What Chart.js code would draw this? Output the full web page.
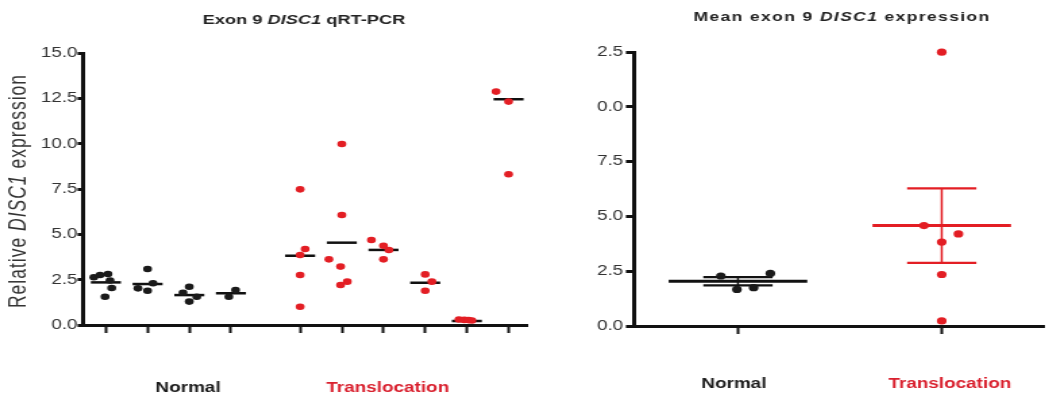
<!DOCTYPE html>
<html>
<head>
<meta charset="utf-8">
<script src="https://cdn.jsdelivr.net/npm/chart.js@4.4.1/dist/chart.umd.min.js"></script>
<style>
  body { margin: 0; background: #fff; width: 1049px; height: 404px; overflow: hidden; position: relative; }
  canvas { position: absolute; top: 0; }
  #left { left: 0; }
  #right { left: 535px; }
</style>
</head>
<body>
<!-- the reference is stretched sideways, so each canvas is drawn narrow and widened by css -->
<canvas id="left" width="396" height="404" style="width:535px;height:404px"></canvas>
<canvas id="right" width="381" height="404" style="width:514px;height:404px"></canvas>
<script>
// groups
const groupNames = ['Normal', 'Translocation'];
const dotColors = ['#1a1a1a', '#e31e24'];
const labelColors = ['#1a1a1a', '#d9202e'];

// left chart: one column per sample, 4 normal then 6 translocation
const sampleGroup = [0, 0, 0, 0, 1, 1, 1, 1, 1, 1];
const sampleValues = [
  [2.63, 2.76, 2.81, 2.45, 2.04, 1.56],
  [3.09, 2.02, 1.89, 2.30],
  [2.11, 1.78, 1.29, 1.56],
  [1.93, 1.56],
  [7.48, 4.19, 3.86, 2.76, 1.01],
  [9.98, 6.07, 3.62, 3.22, 2.21, 2.39],
  [4.69, 4.37, 4.14, 3.62],
  [2.79, 2.39, 1.89],
  [0.30, 0.28, 0.27, 0.25],
  [12.87, 12.32, 8.31],
];
const sampleMeans = [2.35, 2.26, 1.65, 1.75, 3.82, 4.54, 4.14, 2.33, 0.22, 12.45];

// right chart: mean of each sample, per group
const meanValues = [
  [2.28, 1.67, 1.75, 2.40],
  [12.49, 4.58, 4.20, 3.83, 2.35, 0.23],
];
const groupMean = [2.04, 4.58];
const groupSem = [0.19, 1.70];
const rightTickLabels = ['0.0', '2.5', '5.0', '7.5', '0.0', '2.5'];

// layout (x units)
const samplePos = [1, 2, 3, 4, 5.66, 6.66, 7.66, 8.66, 9.66, 10.66];
const sampleJitter = [
  [-0.29, -0.14, 0.05, 0.1, 0.14, -0.02],
  [0, -0.23, 0, 0.13],
  [0, -0.15, 0, 0.18],
  [0.11, -0.05],
  [0, 0.12, 0, 0, 0],
  [0, 0, -0.31, -0.03, -0.03, 0.13],
  [-0.29, 0, 0.13, 0],
  [0, 0.16, 0],
  [-0.19, -0.06, 0.04, 0.12],
  [-0.3, 0, 0],
];
const meanJitter = [
  [-0.084, -0.005, 0.077, 0.159],
  [0, -0.087, 0.082, 0, 0, 0],
];
const leftLabelPos = [2.97, 7.76];
const rightLabelPos = [0.98, 2.04];

Chart.defaults.font.family = '"Liberation Sans", Arial, sans-serif';
Chart.defaults.color = '#333';

function drawRich(ctx, parts, x, y, size, bold, spacing, color) {
  ctx.save();
  ctx.letterSpacing = spacing + 'px';
  ctx.fillStyle = color;
  ctx.textBaseline = 'middle';
  const fonts = parts.map(p => (p[1] ? 'italic ' : '') + (bold ? 'bold ' : '') + size + 'px "Liberation Sans", Arial, sans-serif');
  let w = 0;
  parts.forEach((p, i) => { ctx.font = fonts[i]; w += ctx.measureText(p[0]).width; });
  let cx = x - w / 2;
  parts.forEach((p, i) => {
    ctx.font = fonts[i];
    ctx.fillText(p[0], cx, y);
    cx += ctx.measureText(p[0]).width;
  });
  ctx.restore();
}

// labels may hang past the edges, don't let them shrink the plot
function noPad(s) {
  s.paddingLeft = 0;
  s.paddingRight = 0;
}

function yAxis(max, width, tickLen, pad, labelFn) {
  return {
    min: 0, max: max,
    ticks: { stepSize: 2.5, padding: pad, color: '#333', font: { size: 14 }, callback: labelFn },
    grid: { drawOnChartArea: false, tickLength: tickLen, tickWidth: 3, tickColor: '#111' },
    border: { color: '#111', width: 3 },
    afterFit: s => { s.width = width; }
  };
}

function xAxes(min, max, tickPos, labelPos, labelPad, labelHeight) {
  return {
    x: {
      type: 'linear', min: min, max: max,
      afterBuildTicks: s => { s.ticks = tickPos.map(v => ({ value: v })); },
      ticks: { display: false },
      grid: { drawOnChartArea: false, tickLength: 8, tickWidth: 2, tickColor: '#111' },
      border: { color: '#111', width: 3 },
      afterFit: s => { s.height = 12; noPad(s); }
    },
    x2: {
      type: 'linear', position: 'bottom', min: min, max: max,
      afterBuildTicks: s => { s.ticks = labelPos.map(v => ({ value: v })); },
      ticks: {
        autoSkip: false, maxRotation: 0, padding: labelPad,
        font: { size: 14, weight: 'bold' },
        color: c => labelColors[c.index],
        callback: (v, i) => groupNames[i]
      },
      grid: { display: false },
      border: { display: false },
      afterFit: s => { s.height = labelHeight; noPad(s); }
    }
  };
}

function seg(x1, x2, y1, y2, color, width) {
  return {
    data: [{ x: x1, y: y1 }, { x: x2, y: y2 }],
    showLine: true, pointRadius: 0, borderColor: color, borderWidth: width, clip: false
  };
}

// left chart datasets
const leftSets = [];
[0, 1].forEach(g => {
  const pts = [];
  sampleValues.forEach((vals, i) => {
    if (sampleGroup[i] !== g) return;
    vals.forEach((v, j) => pts.push({ x: samplePos[i] + sampleJitter[i][j], y: v }));
  });
  leftSets.push({ data: pts, backgroundColor: dotColors[g], pointRadius: 3.3, pointBorderWidth: 0, clip: false });
});
sampleMeans.forEach((m, i) => leftSets.push(seg(samplePos[i] - 0.36, samplePos[i] + 0.36, m, m, '#111', 2.5)));

const leftTitle = {
  id: 'leftTitle',
  afterDraw(chart) {
    const ctx = chart.ctx;
    drawRich(ctx, [['Exon 9 ', 0], ['DISC1', 1], [' qRT-PCR', 0]], 225, 20, 13.5, true, 0, '#222');
    ctx.save();
    ctx.translate(14.4, 191);
    ctx.rotate(-Math.PI / 2);
    drawRich(ctx, [['Relative ', 0], ['DISC1', 1], [' expression', 0]], 0, 0, 17.5, false, 1, '#333');
    ctx.restore();
  }
};

new Chart(document.getElementById('left'), {
  type: 'scatter',
  data: { datasets: leftSets },
  options: {
    responsive: false,
    devicePixelRatio: 1,
    animation: false,
    events: [],
    layout: { padding: { top: 53, right: 6, left: 0, bottom: 0 } },
    plugins: { legend: { display: false }, tooltip: { enabled: false } },
    scales: Object.assign(
      xAxes(0.45, 11.1, samplePos, leftLabelPos, 35, 67),
      { y: yAxis(15, 61.4, 4, 0, v => v.toFixed(1)) }
    )
  },
  plugins: [leftTitle]
});

// right chart datasets
const rightSets = [];
[0, 1].forEach(g => {
  rightSets.push({
    data: meanValues[g].map((v, j) => ({ x: g + 1 + meanJitter[g][j], y: v })),
    backgroundColor: dotColors[g], pointRadius: 3.6, pointBorderWidth: 0, clip: false
  });
});
[0, 1].forEach(g => {
  const c = g === 0 ? '#111' : '#e31e24';
  const p = g + 1, m = groupMean[g], e = groupSem[g];
  rightSets.push(seg(p - 0.34, p + 0.34, m, m, c, 3));
  rightSets.push(seg(p - 0.17, p + 0.17, m + e, m + e, c, 2.2));
  rightSets.push(seg(p - 0.17, p + 0.17, m - e, m - e, c, 2.2));
  rightSets.push(seg(p, p, m - e, m + e, c, 1.5));
});

const rightTitle = {
  id: 'rightTitle',
  afterDraw(chart) {
    drawRich(chart.ctx, [['Mean exon 9 ', 0], ['DISC1', 1], [' expression', 0]], 227.6, 17, 13, true, 1, '#222');
  }
};

new Chart(document.getElementById('right'), {
  type: 'scatter',
  data: { datasets: rightSets },
  options: {
    responsive: false,
    devicePixelRatio: 1,
    animation: false,
    events: [],
    layout: { padding: { top: 52, right: 0, left: 0, bottom: 0 } },
    plugins: { legend: { display: false }, tooltip: { enabled: false } },
    scales: Object.assign(
      xAxes(0.49, 2.5, [1, 2], rightLabelPos, 30, 66),
      { y: yAxis(12.5, 73.4, 6, 2, (v, i) => rightTickLabels[i]) }
    )
  },
  plugins: [rightTitle]
});
</script>
</body>
</html>
